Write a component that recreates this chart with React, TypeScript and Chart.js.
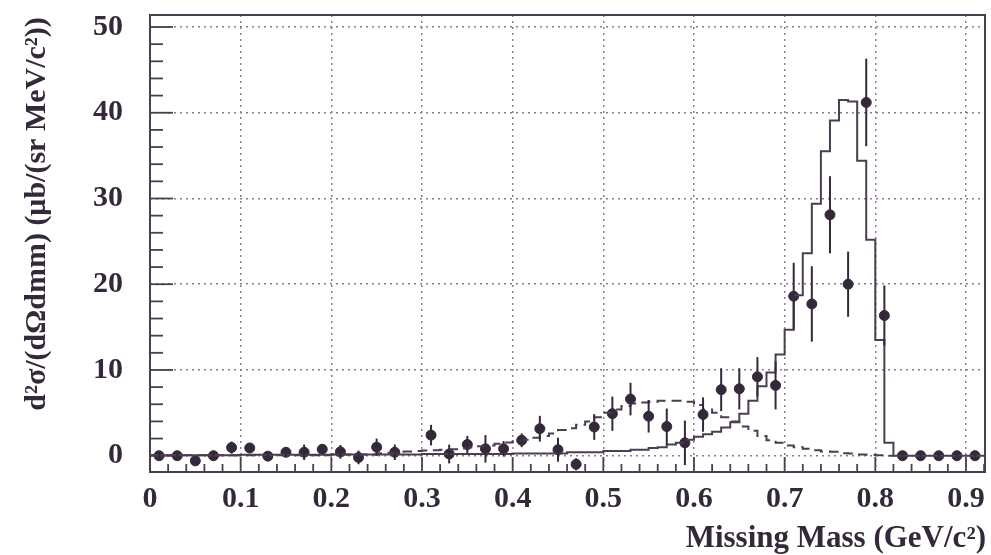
import React, { useEffect, useRef } from 'react';
import { Chart, registerables } from 'chart.js';

Chart.register(...registerables);

// ---------- data ----------
const xTickLabels = ['0', '0.1', '0.2', '0.3', '0.4', '0.5', '0.6', '0.7', '0.8', '0.9'];
const yTickLabels = ['0', '10', '20', '30', '40', '50'];

const xTitle = 'Missing Mass (GeV/c²)';
const yTitle = 'd²σ/(dΩdmm) (μb/(sr MeV/c²))';

// measured points
const dataMass = [0.01, 0.03, 0.05, 0.07, 0.09, 0.11, 0.13, 0.15, 0.17, 0.19, 0.21, 0.23, 0.25, 0.27,
  0.31, 0.33, 0.35, 0.37, 0.39, 0.41, 0.43, 0.45, 0.47, 0.49, 0.51, 0.53, 0.55, 0.57, 0.59, 0.61,
  0.63, 0.65, 0.67, 0.69, 0.71, 0.73, 0.75, 0.77, 0.79, 0.81, 0.83, 0.85, 0.87, 0.89, 0.91];
const dataValue = [0.0, 0.0, -0.6, 0.0, 0.95, 0.9, -0.05, 0.4, 0.4, 0.75, 0.45, -0.2, 1.0, 0.4,
  2.4, 0.2, 1.3, 0.8, 0.8, 1.8, 3.15, 0.7, -1.0, 3.35, 4.9, 6.6, 4.6, 3.4, 1.5, 4.8,
  7.7, 7.8, 9.2, 8.2, 18.6, 17.7, 28.1, 20.0, 41.2, 16.35, 0, 0, 0, 0, 0];
const dataError = [0.3, 0.3, 0.5, 0.3, 0.7, 0.6, 0.4, 0.5, 0.9, 0.5, 0.8, 0.8, 1.0, 0.9,
  1.2, 1.1, 1.0, 1.6, 0.9, 0.8, 1.5, 1.4, 0.7, 1.5, 2.0, 1.9, 1.9, 2.1, 2.6, 2.0,
  2.5, 2.4, 2.3, 2.8, 3.9, 4.4, 4.5, 3.8, 5.1, 3.5, 0.1, 0.1, 0.1, 0.1, 0.1];

// simulated histograms, bins of 0.01 starting at 0.00
const histBinWidth = 0.01;
const simTotal = [
  0.05, 0.05, 0.05, 0.05, 0.05, 0.05, 0.05, 0.05, 0.05, 0.05,
  0.1, 0.1, 0.1, 0.1, 0.1, 0.1, 0.1, 0.1, 0.1, 0.1,
  0.15, 0.15, 0.15, 0.15, 0.15, 0.15, 0.15, 0.15, 0.15, 0.15,
  0.2, 0.2, 0.2, 0.2, 0.2, 0.2, 0.2, 0.2, 0.2, 0.2,
  0.25, 0.25, 0.25, 0.25, 0.25, 0.25, 0.4, 0.4, 0.4, 0.4,
  0.55, 0.55, 0.55, 0.7, 0.7, 0.9, 1.0, 1.3, 1.5, 1.85,
  2.2, 2.5, 2.8, 3.3, 3.9, 4.9, 6.4, 8.1, 9.7, 11.8,
  14.7, 18.7, 23.6, 29.4, 35.5, 39.1, 41.5, 41.3, 34.4, 25.2,
  13.5, 1.5, 0, 0, 0, 0, 0, 0, 0, 0, 0, 0,
];
const simBackground = [
  0.05, 0.05, 0.05, 0.05, 0.05, 0.05, 0.05, 0.05, 0.05, 0.05,
  0.05, 0.05, 0.05, 0.05, 0.05, 0.05, 0.05, 0.05, 0.05, 0.05,
  0.15, 0.15, 0.15, 0.15, 0.15, 0.3, 0.35, 0.45, 0.5, 0.55,
  0.6, 0.65, 0.7, 0.75, 0.85, 0.95, 1.1, 1.2, 1.4, 1.55,
  1.7, 1.85, 2.1, 2.3, 2.6, 3.0, 3.2, 3.6, 4.0, 4.5,
  5.0, 5.4, 5.8, 6.1, 6.2, 6.3, 6.4, 6.4, 6.4, 6.3,
  5.9, 5.4, 5.0, 4.5, 4.0, 3.4, 2.9, 2.3, 1.8, 1.5,
  1.2, 1.0, 0.8, 0.65, 0.5, 0.45, 0.3, 0.25, 0.15, 0.1,
  0.05, 0,
];

// ---------- styles ----------
const INK = '#34293a';
const LINE = '#4a3e50';
const GRID = '#8d7a92';
const FONT = '"Liberation Serif", "Times New Roman", serif';

function histPoints(values: number[]) {
  const pts = values.map((v, i) => ({ x: i * histBinWidth, y: v }));
  pts.push({ x: values.length * histBinWidth, y: values[values.length - 1] });
  return pts;
}

const framePlugin = {
  id: 'frameAndTicks',
  afterDatasetsDraw(chart: any) {
    const { ctx, chartArea: a, scales } = chart;
    const xs = scales.x;
    const ys = scales.y;
    ctx.save();
    ctx.strokeStyle = LINE;
    ctx.lineWidth = 2;
    ctx.strokeRect(a.left, a.top, a.right - a.left, a.bottom - a.top);
    ctx.lineWidth = 1.8;
    // y ticks (inside, left)
    for (let v = 0; v <= 50; v += 2) {
      const py = ys.getPixelForValue(v);
      const len = v % 10 === 0 ? 23 : 13;
      ctx.beginPath();
      ctx.moveTo(a.left, py);
      ctx.lineTo(a.left + len, py);
      ctx.stroke();
    }
    // x ticks (inside, bottom)
    for (let k = 0; k <= 46; k++) {
      const px = xs.getPixelForValue(k * 0.02);
      if (px > a.right) break;
      const len = k % 5 === 0 ? 15 : 8;
      ctx.beginPath();
      ctx.moveTo(px, a.bottom);
      ctx.lineTo(px, a.bottom - len);
      ctx.stroke();
    }
    ctx.restore();

    // error bars
    const meta = chart.getDatasetMeta(2);
    ctx.save();
    ctx.beginPath();
    ctx.rect(a.left, a.top, a.right - a.left, a.bottom - a.top);
    ctx.clip();
    ctx.strokeStyle = INK;
    ctx.lineWidth = 2;
    meta.data.forEach((pt: any, i: number) => {
      const lo = ys.getPixelForValue(dataValue[i] - dataError[i]);
      const hi = ys.getPixelForValue(dataValue[i] + dataError[i]);
      ctx.beginPath();
      ctx.moveTo(pt.x, lo);
      ctx.lineTo(pt.x, hi);
      ctx.stroke();
    });
    ctx.restore();
  },
  afterDraw(chart: any) {
    const { ctx } = chart;
    ctx.save();
    ctx.fillStyle = INK;
    ctx.font = `bold 31px ${FONT}`;
    ctx.textAlign = 'right';
    ctx.textBaseline = 'alphabetic';
    ctx.fillText(xTitle, 986, 547);
    ctx.translate(45, 214);
    ctx.rotate(-Math.PI / 2);
    ctx.textAlign = 'center';
    ctx.font = `bold 30px ${FONT}`;
    ctx.fillText(yTitle, 0, 0);
    ctx.restore();
  },
};

export default function App() {
  const canvasRef = useRef<HTMLCanvasElement | null>(null);

  useEffect(() => {
    if (!canvasRef.current) return;
    const chart = new Chart(canvasRef.current, {
      type: 'line',
      data: {
        datasets: [
          {
            type: 'line',
            data: histPoints(simBackground),
            borderColor: LINE,
            borderWidth: 2,
            borderDash: [10, 6],
            stepped: 'before',
            pointRadius: 0,
            fill: false,
          },
          {
            type: 'line',
            data: histPoints(simTotal),
            borderColor: LINE,
            borderWidth: 2,
            stepped: 'before',
            pointRadius: 0,
            fill: false,
          },
          {
            type: 'scatter',
            data: dataMass.map((m, i) => ({ x: m, y: dataValue[i] })),
            pointRadius: 5,
            pointBackgroundColor: INK,
            pointBorderColor: INK,
            pointBorderWidth: 1,
            showLine: false,
          },
        ],
      } as any,
      options: {
        animation: false,
        responsive: true,
        maintainAspectRatio: false,
        layout: { padding: { left: 0, right: 4, top: 15, bottom: 0 } },
        plugins: { legend: { display: false }, tooltip: { enabled: false } },
        scales: {
          x: {
            type: 'linear',
            min: 0,
            max: 0.921,
            afterFit: (s: any) => { s.height = 83; s.paddingLeft = 0; s.paddingRight = 0; },
            grid: { color: GRID, lineWidth: 1.5, drawTicks: false },
            border: { display: false, dash: [2, 4] },
            ticks: {
              stepSize: 0.1,
              includeBounds: false,
              padding: 9,
              maxRotation: 0,
              autoSkip: false,
              color: INK,
              font: { family: FONT, weight: 'bold', size: 30 },
              callback: (v: any) => xTickLabels[Math.round(Number(v) * 10)] ?? '',
            },
          },
          y: {
            type: 'linear',
            min: -1.9,
            max: 51.4,
            afterFit: (s: any) => { s.width = 150; s.paddingTop = 0; s.paddingBottom = 0; },
            grid: { color: GRID, lineWidth: 1.5, drawTicks: false },
            border: { display: false, dash: [2, 4] },
            ticks: {
              stepSize: 10,
              includeBounds: false,
              padding: 27,
              color: INK,
              font: { family: FONT, weight: 'bold', size: 30 },
              callback: (v: any) => yTickLabels[Math.round(Number(v) / 10)] ?? '',
            },
          },
        },
      } as any,
      plugins: [framePlugin],
    });
    return () => chart.destroy();
  }, []);

  return (
    <div style={{ position: 'fixed', left: 0, top: 0, width: 991, height: 555, background: '#ffffff' }}>
      <canvas ref={canvasRef} />
    </div>
  );
}
